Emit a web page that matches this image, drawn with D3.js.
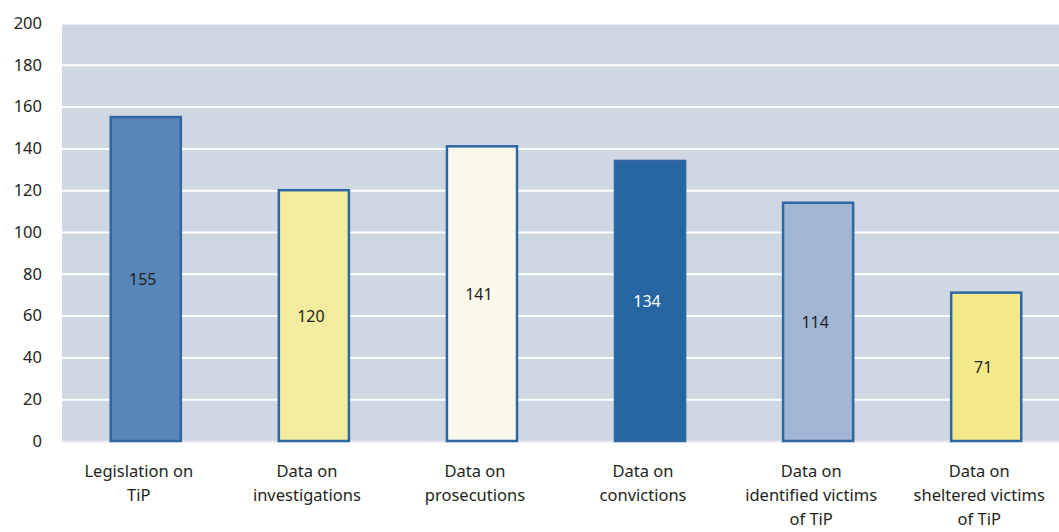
<!DOCTYPE html>
<html>
<head>
<meta charset="utf-8">
<script src="https://d3js.org/d3.v7.min.js"></script>
<style>
  body { margin: 0; background: #fff; }
  text { font-family: "Noto Sans", sans-serif; fill: #231f20; }
</style>
</head>
<body>
<svg></svg>
<script>
var categories = [
  ["Legislation on", "TiP"],
  ["Data on", "investigations"],
  ["Data on", "prosecutions"],
  ["Data on", "convictions"],
  ["Data on", "identified victims", "of TiP"],
  ["Data on", "sheltered victims", "of TiP"]
];
var values = [155, 120, 141, 134, 114, 71];
var fills = ["#5886b8", "#f3ec9e", "#faf8ea", "#2565a1", "#a1b6d3", "#f4e98a"];
var yTicks = [0, 20, 40, 60, 80, 100, 120, 140, 160, 180, 200];

window.onload = function() {
  var svg = d3.select("svg")
    .attr("width", 1059)
    .attr("height", 532);

  var left = 62, right = 1070, top = 23, bottom = 441;

  var x = d3.scaleBand()
    .domain(d3.range(values.length))
    .range([left, right])
    .paddingInner(0.583)
    .paddingOuter(0.29);

  var y = d3.scaleLinear()
    .domain([0, 200])
    .range([bottom, top]);

  // plot background
  svg.append("rect")
    .attr("x", left).attr("y", top)
    .attr("width", right - left).attr("height", bottom - top)
    .attr("fill", "#cfd7e2");

  // grid lines
  svg.selectAll("line.grid")
    .data(yTicks).enter()
    .append("line")
    .attr("x1", left).attr("x2", right)
    .attr("y1", function(d) { return y(d) + 0.5; })
    .attr("y2", function(d) { return y(d) + 0.5; })
    .attr("stroke", function(d) { return d == 0 ? "#e6eaf0" : "#fff"; })
    .attr("stroke-width", 2);

  // y axis labels
  var yAxis = d3.axisLeft(y).tickValues(yTicks).tickSize(0).tickPadding(0);
  var ga = svg.append("g")
    .attr("transform", "translate(42,0)")
    .call(yAxis);
  ga.select(".domain").remove();
  ga.selectAll("text")
    .style("font-family", "Noto Sans, sans-serif")
    .style("font-size", "16.5px")
    .attr("fill", "#231f20");

  // bars
  svg.selectAll("rect.bar")
    .data(values).enter()
    .append("rect")
    .attr("class", "bar")
    .attr("x", function(d, i) { return x(i); })
    .attr("y", function(d) { return y(d); })
    .attr("width", x.bandwidth())
    .attr("height", function(d) { return y(0) - y(d); })
    .attr("fill", function(d, i) { return fills[i]; })
    .attr("stroke", "#2e67a3")
    .attr("stroke-width", 2.5);

  // value labels
  svg.selectAll("text.val")
    .data(values).enter()
    .append("text")
    .attr("x", function(d, i) { return x(i) + x.bandwidth() / 2 - 3; })
    .attr("y", function(d) { return (y(d) + y(0)) / 2 + 6; })
    .attr("text-anchor", "middle")
    .style("font-size", "16px")
    .style("fill", function(d, i) { return i == 3 ? "#fff" : "#231f20"; })
    .text(function(d) { return d; });

  // category labels
  var cats = svg.selectAll("text.cat")
    .data(categories).enter()
    .append("text")
    .attr("text-anchor", "middle")
    .style("font-size", "16.5px");
  cats.selectAll("tspan")
    .data(function(d, i) { return d.map(function(t) { return {t: t, i: i}; }); })
    .enter()
    .append("tspan")
    .attr("x", function(d) { return x(d.i) + x.bandwidth() / 2 - 7; })
    .attr("y", function(d, j) { return 477 + j * 24; })
    .text(function(d) { return d.t; });
};
</script>
</body>
</html>
